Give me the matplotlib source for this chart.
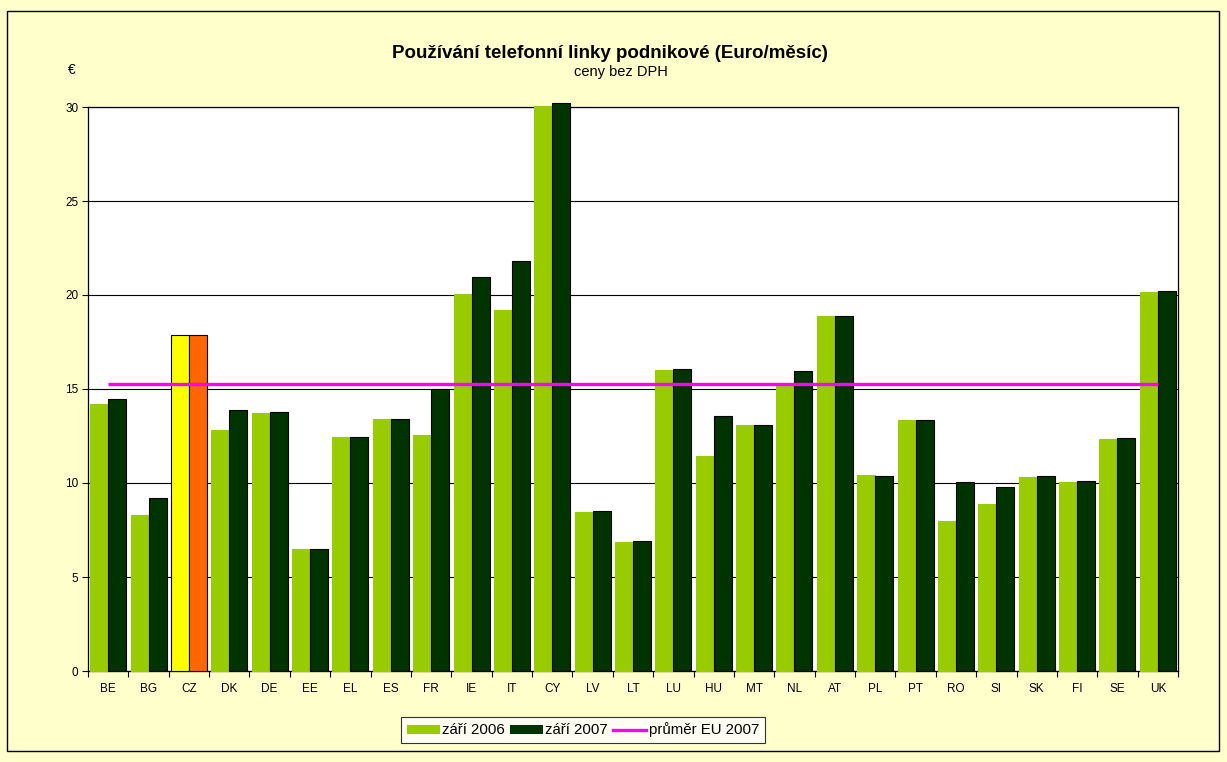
import matplotlib
matplotlib.use("Agg")
import matplotlib.pyplot as plt
import numpy as np
from matplotlib.patches import Rectangle, Patch
from matplotlib.lines import Line2D

plt.rcParams['font.family'] = ['Liberation Sans', 'DejaVu Sans']

countries = ["BE", "BG", "CZ", "DK", "DE", "EE", "EL", "ES", "FR", "IE", "IT", "CY", "LV", "LT",
             "LU", "HU", "MT", "NL", "AT", "PL", "PT", "RO", "SI", "SK", "FI", "SE", "UK"]
sep2006 = [14.2, 8.3, 17.85, 12.83, 13.74, 6.5, 12.45, 13.4, 12.55, 20.03, 19.2, 30.05, 8.44, 6.84,
           16.0, 11.44, 13.08, 15.18, 18.88, 10.41, 13.35, 7.98, 8.87, 10.32, 10.05, 12.34, 20.16]
sep2007 = [14.45, 9.19, 17.85, 13.87, 13.77, 6.51, 12.43, 13.4, 14.98, 20.98, 21.8, 30.2, 8.5, 6.9,
           16.05, 13.56, 13.1, 15.96, 18.9, 10.36, 13.35, 10.05, 9.77, 10.35, 10.1, 12.37, 20.2]
eu_avg_2007 = 15.24

title = "Používání telefonní linky podnikové (Euro/měsíc)"
subtitle = "ceny bez DPH"
labels = ["září 2006", "září 2007", "průměr EU 2007"]

c06, c07 = "#99CC00", "#003300"
cz06, cz07 = "#FFFF00", "#FF6600"
bg = "#FFFFCC"

fig = plt.figure(figsize=(12.27, 7.62), dpi=100, facecolor=bg)
ax = fig.add_axes([88/1227, 1-671/762, (1178-88)/1227, (671-107)/762])
ax.set_facecolor("white")

x = np.arange(len(countries))
w = 0.446
cols06 = [cz06 if c == "CZ" else c06 for c in countries]
cols07 = [cz07 if c == "CZ" else c07 for c in countries]
edges06 = ["black" if c == "CZ" else c06 for c in countries]
ax.bar(x - w/2, sep2006, w, color=cols06, edgecolor=edges06, linewidth=0.8, zorder=3, clip_on=False)
ax.bar(x + w/2, sep2007, w, color=cols07, edgecolor="black", linewidth=0.8, zorder=3, clip_on=False)
ax.plot(x, [eu_avg_2007]*len(x), color="#FF00FF", lw=2.4, zorder=4, solid_capstyle='butt')

ax.set_xlim(-0.5, len(countries) - 0.5)
ax.set_ylim(0, 30)
ax.set_yticks(np.arange(0, 31, 5))
ax.yaxis.grid(True, color="black", lw=0.8, zorder=0)
ax.set_axisbelow(True)
ax.set_xticks(x)
ax.set_xticklabels(countries, fontsize=8.5)
ax.set_xticks(np.arange(-0.5, len(countries), 1), minor=True)
ax.tick_params(axis='x', which='major', length=0, pad=9)
ax.tick_params(axis='x', which='minor', length=4, direction='out', width=0.8)
ax.tick_params(axis='y', length=4, direction='out', labelsize=8.5, width=0.8, pad=3)
for s in ax.spines.values():
    s.set_linewidth(0.9)
    s.set_color("black")

fig.text(610/1227, 1-53/762, title, ha='center', va='center', fontsize=13.5, fontweight='bold')
fig.text(621/1227, 1-72/762, subtitle, ha='center', va='center', fontsize=10.5)
fig.text(72/1227, 1-70/762, "€", ha='center', va='center', fontsize=10)

handles = [Patch(facecolor=c06, edgecolor='none'), Patch(facecolor=c07, edgecolor='none'),
           Line2D([0], [0], color="#FF00FF", lw=2.4)]
leg = fig.legend(handles, labels, loc='center', bbox_to_anchor=(583/1227, 1-730/762), ncol=3,
                 fontsize=10.8, frameon=True, fancybox=False, edgecolor='black', facecolor='white',
                 handlelength=2.2, handleheight=0.55, handletextpad=0.15, columnspacing=0.35,
                 borderpad=0.4, borderaxespad=0)
leg.get_frame().set_linewidth(0.8)

fig.patches.append(Rectangle((7/1227, 1-751/762), (1219-7)/1227, (751-11)/762,
                             transform=fig.transFigure, fill=False, edgecolor='black', lw=1))

fig.savefig("out.png", dpi=100, facecolor=bg)
